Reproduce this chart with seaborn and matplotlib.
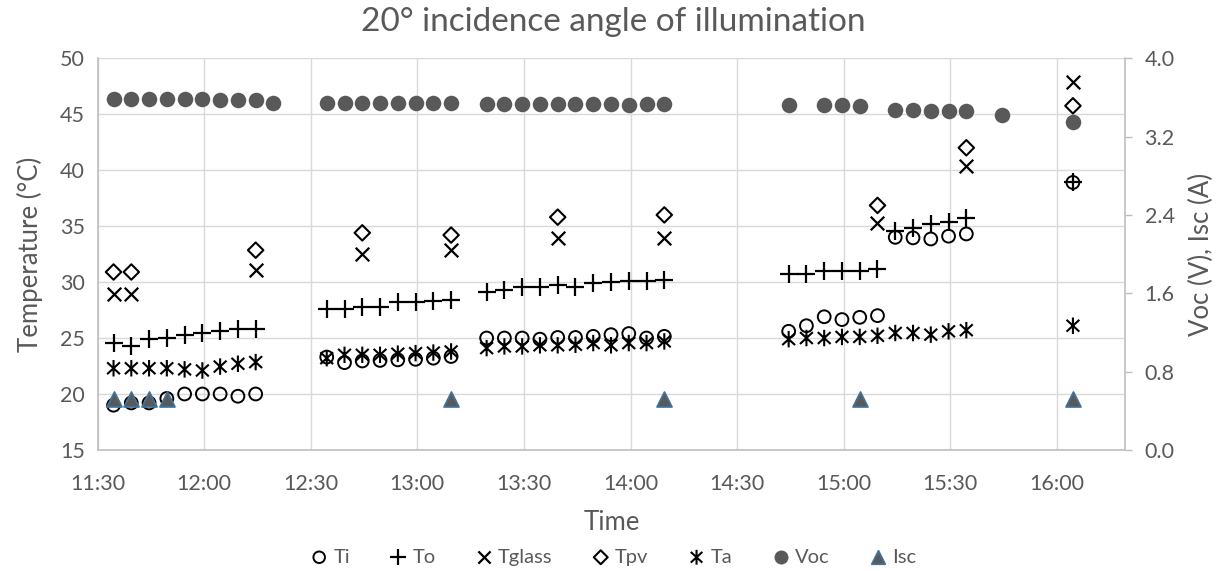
import matplotlib
matplotlib.use("Agg")
import matplotlib.pyplot as plt
import seaborn as sns
import pandas as pd
from matplotlib.path import Path
from matplotlib.ticker import FuncFormatter, FixedLocator

# ---------------- data ----------------
temp_times = [
    "11:34:30", "11:39:30", "11:44:30", "11:49:30", "11:54:30", "11:59:30", "12:04:30", "12:09:30", "12:14:30",
    "12:34:30", "12:39:30", "12:44:30", "12:49:30", "12:54:30", "12:59:30", "13:04:30", "13:09:30",
    "13:19:30", "13:24:30", "13:29:30", "13:34:30", "13:39:30", "13:44:30", "13:49:30", "13:54:30", "13:59:30", "14:04:30", "14:09:30",
    "14:44:30", "14:49:30", "14:54:30", "14:59:30", "15:04:30", "15:09:30",
    "15:14:30", "15:19:30", "15:24:30", "15:29:30", "15:34:30",
    "16:04:30",
]
ti = [19.0, 19.2, 19.2, 19.6, 20.0, 20.0, 20.0, 19.8, 20.0,
      23.3, 22.8, 22.95, 23.0, 23.05, 23.1, 23.2, 23.35,
      25.0, 25.0, 25.0, 24.9, 25.05, 25.05, 25.15, 25.3, 25.4, 25.0, 25.15,
      25.6, 26.1, 26.9, 26.65, 26.85, 27.0,
      34.0, 33.95, 33.85, 34.1, 34.3,
      38.9]
to = [24.6, 24.3, 24.9, 25.0, 25.3, 25.45, 25.6, 25.8, 25.8,
      27.6, 27.6, 27.8, 27.8, 28.2, 28.2, 28.3, 28.4,
      29.1, 29.3, 29.55, 29.6, 29.75, 29.55, 29.9, 29.97, 30.1, 30.1, 30.2,
      30.7, 30.7, 30.95, 30.95, 30.95, 31.15,
      34.55, 34.85, 35.15, 35.35, 35.75,
      38.9]
ta = [22.3, 22.3, 22.3, 22.3, 22.2, 22.1, 22.45, 22.7, 22.85,
      23.2, 23.5, 23.5, 23.5, 23.6, 23.65, 23.7, 23.8,
      24.1, 24.25, 24.25, 24.35, 24.35, 24.4, 24.55, 24.35, 24.55, 24.55, 24.7,
      24.9, 25.0, 25.0, 25.1, 25.1, 25.2,
      25.45, 25.45, 25.3, 25.6, 25.7,
      26.1]

surf_times = ["11:34:30", "11:39:30", "12:14:30", "12:44:30", "13:09:30",
              "13:39:30", "14:09:30", "15:09:30", "15:34:30", "16:04:30"]
tglass = [28.9, 28.9, 31.05, 32.5, 32.85, 33.95, 33.95, 35.25, 40.35, 47.9]
tpv = [30.9, 30.9, 32.85, 34.4, 34.2, 35.8, 36.0, 36.85, 42.0, 45.75]

voc_times = [
    "11:34:30", "11:39:30", "11:44:30", "11:49:30", "11:54:30", "11:59:30", "12:04:30", "12:09:30", "12:14:30", "12:19:30",
    "12:34:30", "12:39:30", "12:44:30", "12:49:30", "12:54:30", "12:59:30", "13:04:30", "13:09:30",
    "13:19:30", "13:24:30", "13:29:30", "13:34:30", "13:39:30", "13:44:30", "13:49:30", "13:54:30", "13:59:30", "14:04:30", "14:09:30",
    "14:44:30", "14:54:30", "14:59:30", "15:04:30",
    "15:14:30", "15:19:30", "15:24:30", "15:29:30", "15:34:30",
    "15:44:30", "16:04:30",
]
voc = [3.58, 3.58, 3.58, 3.58, 3.58, 3.58, 3.575, 3.57, 3.57, 3.545,
       3.545, 3.545, 3.545, 3.545, 3.545, 3.545, 3.545, 3.545,
       3.53, 3.53, 3.53, 3.53, 3.53, 3.53, 3.53, 3.53, 3.52, 3.53, 3.53,
       3.52, 3.52, 3.52, 3.51,
       3.47, 3.47, 3.46, 3.46, 3.46,
       3.42, 3.35]

isc_times = ["11:34:30", "11:39:30", "11:44:30", "11:49:30",
             "13:09:30", "14:09:30", "15:04:30", "16:04:30"]
isc = [0.52, 0.52, 0.52, 0.52, 0.52, 0.52, 0.52, 0.52]

x_tick_labels = ["11:30", "12:00", "12:30", "13:00", "13:30",
                 "14:00", "14:30", "15:00", "15:30", "16:00"]
left_ticks = [15, 20, 25, 30, 35, 40, 45, 50]
right_ticks = [0.0, 0.8, 1.6, 2.4, 3.2, 4.0]


def to_hours(ts):
    out = []
    for t in ts:
        parts = [int(p) for p in t.split(":")]
        while len(parts) < 3:
            parts.append(0)
        out.append(parts[0] + parts[1] / 60 + parts[2] / 3600)
    return out


df_t = pd.DataFrame({"t": to_hours(temp_times), "Ti": ti, "To": to, "Ta": ta})
df_s = pd.DataFrame({"t": to_hours(surf_times), "Tglass": tglass, "Tpv": tpv})
df_v = pd.DataFrame({"t": to_hours(voc_times), "Voc": voc})
df_i = pd.DataFrame({"t": to_hours(isc_times), "Isc": isc})

# ---------------- style ----------------
sns.set_style("white")
GRAY = "#595959"
plt.rcParams["font.family"] = ["Lato", "DejaVu Sans"]
plt.rcParams["text.color"] = GRAY
plt.rcParams["axes.labelcolor"] = GRAY
plt.rcParams["xtick.color"] = GRAY
plt.rcParams["ytick.color"] = GRAY

fig = plt.figure(figsize=(12.27, 5.71), dpi=100)
ax = fig.add_axes([0.0795, 0.212, 0.917 - 0.0795, 0.898 - 0.212])
ax2 = ax.twinx()

# custom Excel-like star marker (x with vertical bar)
star = Path([(0, -1), (0, 1), (-0.78, -0.72), (0.78, 0.72), (-0.78, 0.72), (0.78, -0.72)],
            [Path.MOVETO, Path.LINETO, Path.MOVETO, Path.LINETO, Path.MOVETO, Path.LINETO])

sns.scatterplot(data=df_t, x="t", y="Ti", ax=ax, marker="o", s=85,
                facecolors="none", edgecolor="black", linewidth=1.4, label="Ti", zorder=3)
sns.scatterplot(data=df_t, x="t", y="To", ax=ax, marker="+", s=160,
                color="black", linewidth=1.6, label="To", zorder=3)
sns.scatterplot(data=df_s, x="t", y="Tglass", ax=ax, marker="x", s=95,
                color="black", linewidth=1.6, label="Tglass", zorder=3)
sns.scatterplot(data=df_s, x="t", y="Tpv", ax=ax, marker="D", s=62,
                facecolors="none", edgecolor="black", linewidth=1.5, label="Tpv", zorder=3)
sns.scatterplot(data=df_t, x="t", y="Ta", ax=ax, marker=star, s=140,
                facecolors="none", edgecolor="black", linewidth=1.5, label="Ta", zorder=3)

sns.scatterplot(data=df_v, x="t", y="Voc", ax=ax2, marker="o", s=125,
                color=GRAY, edgecolor=GRAY, linewidth=0, label="Voc", zorder=3)
sns.scatterplot(data=df_i, x="t", y="Isc", ax=ax2, marker="^", s=115,
                color=GRAY, edgecolor="#41719C", linewidth=1.3, label="Isc", zorder=3)

# axes ranges / ticks
xticks = to_hours(x_tick_labels)
ax.set_xlim(11.5, 16.32)
ax.xaxis.set_major_locator(FixedLocator(xticks))
ax.set_xticklabels(x_tick_labels)
ax.set_ylim(15, 50)
ax.set_yticks(left_ticks)
ax2.set_ylim(0, 4.0)
ax2.set_yticks(right_ticks)
ax2.yaxis.set_major_formatter(FuncFormatter(lambda v, p: f"{v:.1f}"))

ax.grid(True, color="#D9D9D9", linewidth=1.0)
ax.set_axisbelow(True)
ax2.grid(False)

for a in (ax, ax2):
    for s in a.spines.values():
        s.set_visible(False)
ax.spines["left"].set_visible(True)
ax.spines["bottom"].set_visible(True)
ax2.spines["right"].set_visible(True)
for sp in (ax.spines["left"], ax.spines["bottom"], ax2.spines["right"]):
    sp.set_color("#BFBFBF")
    sp.set_linewidth(1.2)

ax.tick_params(axis="y", length=0, labelsize=15.5, pad=9)
ax.tick_params(axis="x", length=0, labelsize=15.5, pad=17)
ax2.tick_params(axis="y", length=5, width=1.0, color="#BFBFBF", labelsize=15.5, pad=9, direction="out")

ax.set_xlabel("Time", fontsize=18.5, labelpad=12)
ax.set_ylabel("Temperature (°C)", fontsize=18.5, labelpad=12)
ax2.set_ylabel("Voc (V), Isc (A)", fontsize=18.5, labelpad=10)
fig.text(0.5, 1 - 22 / 571, "20° incidence angle of illumination", fontsize=24,
         color=GRAY, ha="center", va="center")

h1, l1 = ax.get_legend_handles_labels()
h2, l2 = ax2.get_legend_handles_labels()
if ax.get_legend():
    ax.get_legend().remove()
if ax2.get_legend():
    ax2.get_legend().remove()
fig.legend(h1 + h2, l1 + l2, loc="center", bbox_to_anchor=(0.5, 1 - 557 / 571), ncol=7,
           frameon=False, fontsize=14.5, handlelength=0.8, handletextpad=0.3,
           columnspacing=2.0, markerscale=0.9)

fig.savefig("out.png", dpi=100)
